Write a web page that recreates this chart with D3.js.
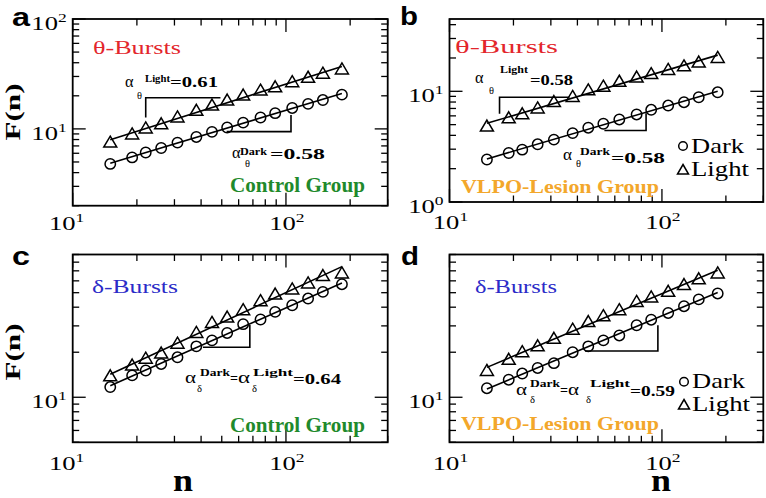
<!DOCTYPE html>
<html><head><meta charset="utf-8">
<script src="https://cdn.jsdelivr.net/npm/d3@7"></script>
<style>body{margin:0;background:#fff}svg{display:block}</style>
</head><body>
<svg id="chart" width="766" height="498"></svg>
<script>
// ---- data ----
const nValues = [15, 19, 22, 26, 31, 38, 45, 53, 63, 76, 89, 107, 127, 149, 183];
const thetaControlLight = [7.5, 8.9, 10.1, 11.0, 12.7, 14.6, 16.3, 18.1, 20.1, 22.3, 23.9, 26.6, 29.2, 31.8, 34.8];
const thetaControlDark  = [4.8, 5.5, 6.1, 6.7, 7.5, 8.45, 9.4, 10.3, 11.4, 12.7, 13.9, 15.5, 16.9, 18.3, 20.5];
const thetaLesionLight  = [4.8, 5.7, 6.2, 7.0, 8.0, 8.9, 10.2, 11.0, 12.2, 13.3, 14.3, 15.6, 16.8, 18.2, 20.0];
const thetaLesionDark   = [2.42, 2.77, 2.97, 3.32, 3.66, 4.19, 4.69, 5.09, 5.57, 6.18, 6.81, 7.44, 7.97, 8.84, 9.8];
const deltaControlLight = [13.8, 16.3, 18.1, 19.6, 22.8, 26.9, 31.4, 34.1, 38.2, 43.9, 48.6, 52.6, 57.7, 64.6, 67.3];
const deltaControlDark  = [11.7, 14.0, 15.1, 16.7, 18.5, 21.9, 24.0, 26.9, 30.8, 33.1, 37.2, 41.2, 45.7, 50.6, 57.0];
const deltaLesionLight  = [15.0, 17.8, 20.0, 21.9, 24.6, 28.3, 31.8, 34.8, 38.2, 43.4, 46.5, 50.7, 56.2, 61.4, 67.3];
const deltaLesionDark   = [11.5, 13.1, 14.4, 15.7, 16.9, 20.0, 21.9, 24.0, 25.9, 30.3, 33.0, 36.6, 40.6, 45.1, 49.4];
// slope-guide brackets, [n, F] corners
const bracketA = [[[22, 12.7], [22, 19.2], [49.3, 19.2]], [[52.7, 9.45], [105.6, 9.45], [105.6, 13.4]]];
const bracketB = [[[17.2, 6.27], [17.2, 8.83], [36.7, 8.83]], [[53.6, 4.43], [84.2, 4.43], [84.2, 6.34]]];
const bracketC = [[[40.8, 21.6], [67.7, 21.6], [67.7, 30.4]]];
const bracketD = [[[43.4, 20.4], [95.7, 20.4], [95.7, 30.3]]];
const xDomain = [10, 300];
const xTickLabels = [["10", "1"], ["10", "2"]];
const alphaValues = {a: ["0.61", "0.58"], b: ["0.58", "0.58"], c: ["0.64"], d: ["0.59"]};

const RED = "#e3262c", BLUE = "#2b2bc8", GREEN = "#1f8a2c", ORANGE = "#f3a72b";
const SERIF = "'Liberation Serif','Times New Roman',serif";
const SANS = "'Liberation Sans',Arial,sans-serif";

const svg = d3.select("#chart");

function fitText(parent, str, x, y, w, o = {}) {
  const t = parent.append("text")
    .attr("x", 0).attr("y", 0)
    .style("font-family", o.family || SERIF)
    .style("font-size", (o.size || 16) + "px")
    .style("font-weight", o.bold ? "bold" : "normal")
    .attr("fill", o.fill || "#000")
    .text(str);
  const nat = t.node().getComputedTextLength();
  const sx = w / nat;
  if (o.rotate) {
    t.attr("text-anchor", "middle").attr("transform", `translate(${x},${y}) rotate(-90) scale(${sx},1)`);
  } else {
    t.attr("transform", `translate(${x},${y}) scale(${sx},1)`);
  }
  return t;
}

function tickLabel(parent, base, sup, x, y, anchor) {
  const t = parent.append("text").attr("x", 0).attr("y", 0)
    .style("font-family", SERIF).style("font-size", "19px").attr("fill", "#000");
  t.append("tspan").text(base);
  t.append("tspan").attr("dy", -8).style("font-size", "12.5px").text(sup);
  const w = t.node().getComputedTextLength() * 1.4;
  let left = anchor === "end" ? x - w : anchor === "middle" ? x - w / 2 : x;
  t.attr("transform", `translate(${left},${y}) scale(1.4,1)`);
}

const circlePath = r => `M${-r},0a${r},${r} 0 1,0 ${2*r},0a${r},${r} 0 1,0 ${-2*r},0Z`;
const triPath = (hw, top, bot) => `M0,${-top}L${hw},${bot}L${-hw},${bot}Z`;

const panels = [
  {letter: "a", lx: 12, ly: 26, box: [72.7, 387.7, 205.7, 19], yDomain: [2, 100],
   light: thetaControlLight, dark: thetaControlDark, brackets: bracketA,
   xLab0: -6, xLabY: 230, yTicks: [[10, "1"], [100, "2"]]},
  {letter: "b", lx: 400, ly: 25, box: [449.5, 763.3, 202, 19], yDomain: [1, 45],
   light: thetaLesionLight, dark: thetaLesionDark, brackets: bracketB,
   xLab0: 1, xLabY: 229, yTicks: [[1, "0"], [10, "1"]]},
  {letter: "c", lx: 12, ly: 265, box: [72.7, 387.7, 442.3, 254.5], yDomain: [5, 90],
   light: deltaControlLight, dark: deltaControlDark, brackets: bracketC,
   xLab0: -6, xLabY: 470, yTicks: [[10, "1"]]},
  {letter: "d", lx: 401, ly: 265, box: [449.5, 763.3, 442.3, 254.5], yDomain: [5, 90],
   light: deltaLesionLight, dark: deltaLesionDark, brackets: bracketD,
   xLab0: 1, xLabY: 470, yTicks: [[10, "1"]]}
];

function logTicks(lo, hi) {
  const out = [];
  for (let e = Math.floor(Math.log10(lo)); e <= Math.ceil(Math.log10(hi)); e++) {
    for (let k = 1; k <= 9; k++) {
      const v = k * Math.pow(10, e);
      if (v >= lo * 0.999 && v <= hi * 1.001) out.push({v, major: k === 1});
    }
  }
  return out;
}

function regress(xs, ys) {
  const lx = xs.map(Math.log10), ly = ys.map(Math.log10);
  const mx = d3.mean(lx), my = d3.mean(ly);
  const b = d3.sum(lx, (v, i) => (v - mx) * (ly[i] - my)) / d3.sum(lx, v => (v - mx) * (v - mx));
  const a = my - b * mx;
  return n => Math.pow(10, a + b * Math.log10(n));
}

panels.forEach(p => {
  const [x0, x1, y0, y1] = p.box;
  const x = d3.scaleLog().domain(xDomain).range([x0, x1]);
  const y = d3.scaleLog().domain(p.yDomain).range([y0, y1]);
  const g = svg.append("g");

  // ticks (inward, all 4 sides)
  const tg = g.append("g").attr("stroke", "#000").attr("stroke-width", 1.3);
  logTicks(xDomain[0], xDomain[1]).forEach(t => {
    const L = t.major ? 13 : 6.5, px = x(t.v);
    tg.append("line").attr("x1", px).attr("x2", px).attr("y1", y0).attr("y2", y0 - L);
    tg.append("line").attr("x1", px).attr("x2", px).attr("y1", y1).attr("y2", y1 + L);
  });
  logTicks(p.yDomain[0], p.yDomain[1]).forEach(t => {
    const L = t.major ? 13 : 6.5, py = y(t.v);
    tg.append("line").attr("x1", x0).attr("x2", x0 + L).attr("y1", py).attr("y2", py);
    tg.append("line").attr("x1", x1).attr("x2", x1 - L).attr("y1", py).attr("y2", py);
  });
  g.append("rect").attr("x", x0).attr("y", y1).attr("width", x1 - x0).attr("height", y0 - y1)
    .attr("fill", "none").attr("stroke", "#000").attr("stroke-width", 1.8);

  // tick labels
  tickLabel(g, xTickLabels[0][0], xTickLabels[0][1], x(10) + p.xLab0, p.xLabY, "middle");
  tickLabel(g, xTickLabels[1][0], xTickLabels[1][1], x(100) + 1, p.xLabY, "middle");
  p.yTicks.forEach(([v, s]) => tickLabel(g, "10", s, x0 - 6, y(v) + 11, "end"));

  // fit lines
  const line = d3.line().x(d => x(d[0])).y(d => y(d[1]));
  [p.dark, p.light].forEach(ser => {
    const f = regress(nValues, ser);
    const n0 = nValues[0], n1 = nValues[nValues.length - 1];
    g.append("path").attr("d", line([[n0, f(n0)], [n1, f(n1)]]))
      .attr("fill", "none").attr("stroke", "#000").attr("stroke-width", 1.6);
  });
  // brackets
  p.brackets.forEach(b => g.append("path").attr("d", line(b))
    .attr("fill", "none").attr("stroke", "#000").attr("stroke-width", 1.6));

  // markers
  g.append("g").selectAll("path").data(nValues.map((n, i) => [n, p.dark[i]])).join("path")
    .attr("transform", d => `translate(${x(d[0])},${y(d[1])})`)
    .attr("d", circlePath(5.2)).attr("fill", "none").attr("stroke", "#000").attr("stroke-width", 1.5);
  g.append("g").selectAll("path").data(nValues.map((n, i) => [n, p.light[i]])).join("path")
    .attr("transform", d => `translate(${x(d[0])},${y(d[1])})`)
    .attr("d", triPath(6.5, 6.5, 4.5)).attr("fill", "none").attr("stroke", "#000").attr("stroke-width", 1.5);

  // panel letter
  fitText(g, p.letter, p.lx, p.ly, 18, {family: SANS, size: 25, bold: true});
});

// ---- annotations ----
const A = svg.append("g");
// panel a
fitText(A, "θ-Bursts", 93, 54, 88, {size: 19, fill: RED});
fitText(A, "α", 125, 87, 8.5, {size: 16});
fitText(A, "θ", 137, 99, 5, {size: 10});
fitText(A, "Light", 145, 82, 25, {size: 10, bold: true});
fitText(A, "=" + alphaValues.a[0], 170, 87.3, 48, {size: 14, bold: true});
fitText(A, "α", 232, 158, 8.5, {size: 16});
fitText(A, "θ", 245, 167, 5, {size: 10});
fitText(A, "Dark", 240, 155, 27, {size: 10, bold: true});
fitText(A, "=" + alphaValues.a[1], 270, 159, 55, {size: 14, bold: true});
fitText(A, "Control Group", 230, 192, 135, {size: 20, bold: true, fill: GREEN});
fitText(A, "F(n)", 20, 112, 57, {size: 20, bold: true, rotate: true});
// panel b
fitText(A, "θ-Bursts", 455, 53, 103, {size: 19, fill: RED});
fitText(A, "α", 475, 83, 8.5, {size: 16});
fitText(A, "θ", 489, 94, 5, {size: 10});
fitText(A, "Light", 500, 73, 28, {size: 11, bold: true});
fitText(A, "=" + alphaValues.b[0], 530, 85, 43, {size: 15, bold: true});
fitText(A, "α", 563, 160, 9, {size: 16});
fitText(A, "θ", 576, 167, 5, {size: 10});
fitText(A, "Dark", 580, 155, 30, {size: 11, bold: true});
fitText(A, "=" + alphaValues.b[1], 611, 162.7, 54, {size: 15, bold: true});
fitText(A, "VLPO-Lesion Group", 461, 193, 198, {size: 18, bold: true, fill: ORANGE});
// panel c
fitText(A, "δ-Bursts", 92, 293, 86, {size: 19, fill: BLUE});
fitText(A, "α", 185, 383, 11, {size: 16});
fitText(A, "δ", 197, 392, 5, {size: 10});
fitText(A, "Dark", 200, 376, 30, {size: 11, bold: true});
fitText(A, "=", 230, 383, 8, {size: 14, bold: true});
fitText(A, "α", 238, 383, 12, {size: 16});
fitText(A, "δ", 252, 392, 5, {size: 10});
fitText(A, "Light", 253, 376, 40, {size: 11, bold: true});
fitText(A, "=" + alphaValues.c[0], 293, 384, 48, {size: 14, bold: true});
fitText(A, "Control Group", 230, 431.7, 135, {size: 20, bold: true, fill: GREEN});
fitText(A, "F(n)", 20, 352, 57, {size: 20, bold: true, rotate: true});
fitText(A, "n", 173, 491, 20, {size: 32, bold: true});
// panel d
fitText(A, "δ-Bursts", 475, 293, 82, {size: 19, fill: BLUE});
fitText(A, "α", 516, 395, 11, {size: 16});
fitText(A, "δ", 530, 403, 5, {size: 10});
fitText(A, "Dark", 530, 386.7, 30, {size: 11, bold: true});
fitText(A, "=", 560, 395, 8, {size: 14, bold: true});
fitText(A, "α", 568, 395, 11, {size: 16});
fitText(A, "δ", 586, 403, 5, {size: 10});
fitText(A, "Light", 590, 386.7, 40, {size: 11, bold: true});
fitText(A, "=" + alphaValues.d[0], 630, 396, 45, {size: 14, bold: true});
fitText(A, "VLPO-Lesion Group", 461, 430, 198, {size: 18, bold: true, fill: ORANGE});
fitText(A, "n", 651, 491, 20, {size: 32, bold: true});

// legends (panels b and d)
[[683, 146, 170], [684, 381.7, 405]].forEach(([lx, cy, ty]) => {
  A.append("path").attr("transform", `translate(${lx},${cy})`).attr("d", circlePath(4.3))
    .attr("fill", "none").attr("stroke", "#000").attr("stroke-width", 1.5);
  A.append("path").attr("transform", `translate(${lx},${ty})`).attr("d", triPath(5.5, 5.5, 4))
    .attr("fill", "none").attr("stroke", "#000").attr("stroke-width", 1.5);
  fitText(A, "Dark", lx + 8, cy + 6.7, 53, {size: 20});
  fitText(A, "Light", lx + 8, ty + 5.5, 58, {size: 20});
});
</script>
</body></html>
